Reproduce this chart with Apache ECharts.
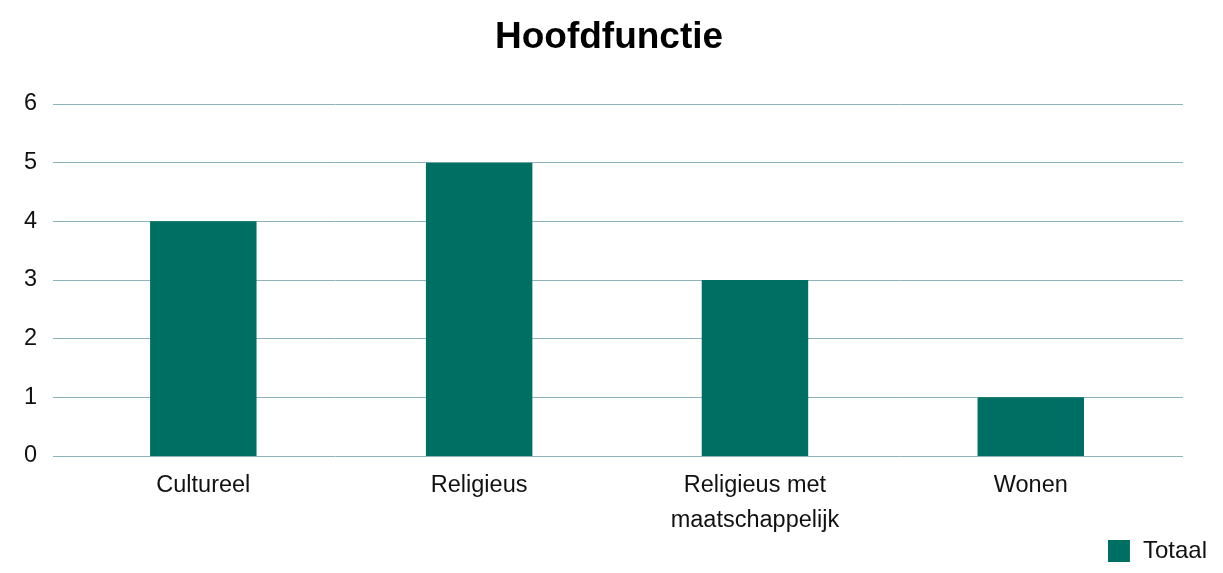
<!DOCTYPE html>
<html><head><meta charset="utf-8">
<script src="https://cdn.jsdelivr.net/npm/echarts@6/dist/echarts.min.js"></script>
<style>html,body{margin:0;padding:0;background:#fff}#c{width:1223px;height:573px}</style>
</head><body><div id="c"></div>
<script>
const categories = ['Cultureel', 'Religieus', 'Religieus met\nmaatschappelijk', 'Wonen'];
const totaal = [4, 5, 3, 1];
const seriesName = 'Totaal';
const yTicks = { min: 0, max: 6, interval: 1 };
const FONT = 'Liberation Sans, Arial, sans-serif';
const chart = echarts.init(document.getElementById('c'));
chart.setOption({
  animation: false,
  textStyle: { fontFamily: FONT },
  title: { text: 'Hoofdfunctie', left: 490, top: 14,
    textStyle: { fontSize: 37, fontWeight: 'bold', color: '#000', fontFamily: FONT } },
  legend: { right: 11, bottom: 5, itemWidth: 22, itemHeight: 22,
    icon: 'rect',
    textStyle: { fontSize: 24, color: '#111', fontFamily: FONT, padding: [0, 0, 0, 8] },
    data: [seriesName] },
  grid: [
    { left: 53, right: 40, top: 104, bottom: 117 },
    { left: 65.4, right: 54.3, top: 104, bottom: 117 }
  ],
  xAxis: [
    { type: 'value', gridIndex: 0, min: 0, max: 1, show: false },
    { type: 'category', gridIndex: 1, data: categories,
      axisLine: { show: false },
      axisTick: { show: false },
      axisLabel: { fontSize: 23.5, color: '#111', margin: 12, lineHeight: 35, interval: 0 } }
  ],
  yAxis: [
    { type: 'value', gridIndex: 0, min: yTicks.min, max: yTicks.max, interval: yTicks.interval,
      axisLine: { show: false }, axisTick: { show: false },
      splitLine: { lineStyle: { color: '#8db4ba', width: 1 } },
      axisLabel: { fontSize: 23.5, color: '#111', margin: 16, padding: [6, 0, 0, 0] } },
    { type: 'value', gridIndex: 1, min: yTicks.min, max: yTicks.max, interval: yTicks.interval, show: false,
      splitLine: { show: false } }
  ],
  series: [{ name: seriesName, type: 'bar', xAxisIndex: 1, yAxisIndex: 1, data: totaal, barWidth: '38.6%',
    itemStyle: { color: '#006f63' } }]
});
</script></body></html>
